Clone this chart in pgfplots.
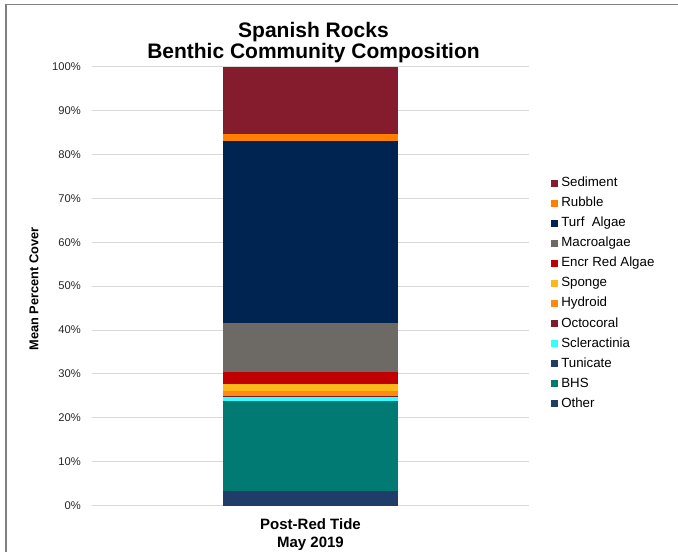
\documentclass[border=0pt]{standalone}
\usepackage{pgfplots}
\pgfplotsset{compat=1.18}
\usepackage{fontspec}
\setmainfont{Liberation Sans}
\definecolor{cSed}{HTML}{841C2E}
\definecolor{cRub}{HTML}{FF8000}
\definecolor{cTurf}{HTML}{002452}
\definecolor{cMac}{HTML}{6D6A65}
\definecolor{cEncr}{HTML}{C00000}
\definecolor{cSpo}{HTML}{FFB81C}
\definecolor{cHyd}{HTML}{FF8A10}
\definecolor{cOct}{HTML}{7D1C2E}
\definecolor{cScl}{HTML}{33FFFF}
\definecolor{cTun}{HTML}{1F3D68}
\definecolor{cBHS}{HTML}{007A72}
\definecolor{cOth}{HTML}{1F3D68}
\begin{document}
\begin{tikzpicture}[x=1pt,y=1pt]
\path[use as bounding box] (0,0) rectangle (678,552);
\draw[color=black!50, line width=1.5pt] (6,0) -- (6,547.3) -- (679,547.3);
\begin{axis}[
  at={(92.3pt,46.5pt)}, anchor=south west,
  scale only axis, width=436.4pt, height=438.8pt,
  ybar stacked, bar width=175pt,
  xmin=-1, xmax=1, ymin=0, ymax=100,
  xtick={0}, xticklabels={{Post-Red Tide\\May 2019}},
  xticklabel style={align=center, font=\bfseries\fontsize{15}{18.5}\selectfont, inner sep=0pt, yshift=-12.5pt},
  ytick={0,10,...,100},
  yticklabel={\pgfmathprintnumber{\tick}\%},
  yticklabel style={font=\fontsize{11.2}{12}\selectfont, text=black!85, inner sep=0pt, xshift=-11.3pt},
  /pgf/number format/assume math mode=true,
  major tick length=0pt,
  axis line style={draw=none},
  ymajorgrids, grid style={color=black!15, line width=0.9pt},
  title={Spanish Rocks\\Benthic Community Composition},
  title style={align=center, font=\bfseries\fontsize{21}{21.5}\selectfont, at={(axis description cs:0.5,1)}, anchor=south, inner sep=0pt, yshift=-2.5pt, xshift=3pt},
  ylabel={Mean Percent Cover},
  ylabel style={at={(axis description cs:-0.1335,0.4934)}, anchor=center, font=\bfseries\fontsize{12.8}{14}\selectfont},
  reverse legend,
  legend style={at={(axis description cs:1.0504,0.7498)}, anchor=north west, draw=none, fill=none,
    font=\fontsize{13.3}{14}\selectfont, row sep=7.05pt, column sep=3.4pt, inner sep=0pt,
    nodes={inner sep=0pt, text height=10pt, text depth=3pt}},
  legend cell align=left,
  legend image code/.code={\fill[#1] (0pt,-3.6pt) rectangle (7pt,3.6pt);},
  every axis plot/.append style={draw=none},
]
\addplot[fill=cOth] coordinates {(0,3.30)};
\addplot[fill=cBHS] coordinates {(0,20.51)};
\addplot[fill=cTun] coordinates {(0,0.0)};
\addplot[fill=cScl] coordinates {(0,0.92)};
\addplot[fill=cOct] coordinates {(0,0.29)};
\addplot[fill=cHyd] coordinates {(0,1.07)};
\addplot[fill=cSpo] coordinates {(0,1.60)};
\addplot[fill=cEncr] coordinates {(0,2.73)};
\addplot[fill=cMac] coordinates {(0,11.24)};
\addplot[fill=cTurf] coordinates {(0,41.41)};
\addplot[fill=cRub] coordinates {(0,1.59)};
\addplot[fill=cSed] coordinates {(0,15.34)};
\legend{Other,BHS,Tunicate,Scleractinia,Octocoral,Hydroid,Sponge,Encr Red Algae,Macroalgae,Turf\ \ Algae,Rubble,Sediment}
\end{axis}
\end{tikzpicture}
\end{document}
